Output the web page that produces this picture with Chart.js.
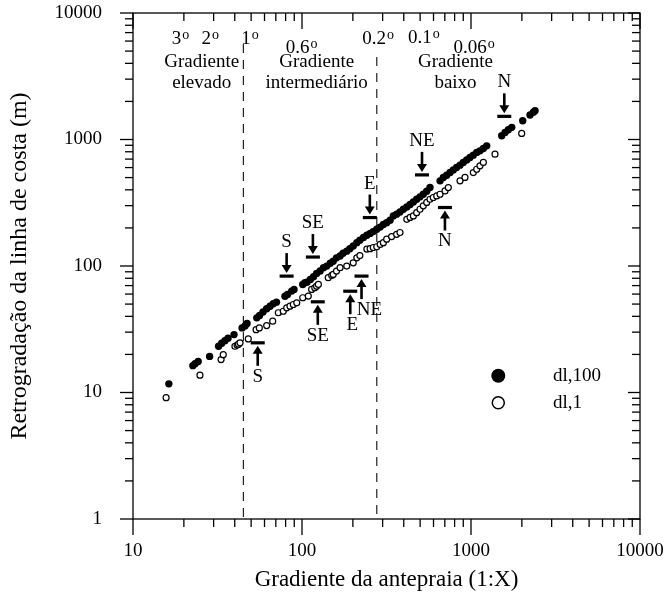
<!DOCTYPE html>
<html>
<head>
<meta charset="utf-8">
<script src="https://cdn.jsdelivr.net/npm/chart.js@4.4.1/dist/chart.umd.min.js"></script>
<style>
  body { margin: 0; background: #fff; }
</style>
</head>
<body>
<canvas id="chart" width="667" height="603"></canvas>
<script>
// dl,100 (filled circles)
const dl100X = [16.3, 22.6, 23.3, 24.3, 28.4, 32.1, 33.5, 35.0, 36.5, 39.6, 44.2, 46.0, 47.3, 54.0, 56.1, 58.8, 61.8, 64.7, 67.6, 70.6, 79.3, 82.1, 86.9, 89.7, 101, 104, 107, 112, 117, 122, 128, 134, 140, 147, 153, 160, 168, 175, 184, 192, 201, 211, 220, 231, 242, 253, 264, 277, 290, 303, 317, 332, 347, 363, 380, 398, 417, 436, 456, 477, 499, 522, 547, 572, 656, 686, 718, 752, 786, 822, 861, 900, 943, 986, 1032, 1081, 1130, 1183, 1239, 1520, 1590, 1663, 1742, 2023, 2235, 2339, 2393];
const dl100Y = [11.7, 16.3, 16.9, 17.6, 19.3, 23.2, 24.5, 25.7, 26.9, 28.7, 32.4, 33.6, 35.1, 38.9, 40.6, 43.3, 45.9, 48.1, 50.3, 51.8, 57.7, 59.6, 63.3, 65.3, 71.5, 73.7, 74.5, 78.3, 82.3, 87.4, 91.2, 97, 99.8, 105, 109, 116, 120, 126, 131, 137, 144, 153, 160, 168, 175, 181, 187, 195, 203, 213, 220, 230, 249, 257, 267, 281, 293, 306, 321, 337, 352, 369, 390, 417, 471, 501, 522, 548, 575, 601, 627, 659, 690, 721, 752, 791, 813, 849, 891, 1070, 1138, 1194, 1247, 1406, 1560, 1640, 1688];

// dl,1 (open circles)
const dl1X = [15.7, 24.9, 33.2, 34.2, 40.1, 41.3, 42.1, 43.0, 48.1, 53.5, 55.9, 61.8, 67.1, 72.4, 77.5, 81.2, 84.9, 88.8, 93.1, 101, 109, 114, 119, 122, 125, 143, 150, 153, 160, 168, 184, 201, 211, 220, 242, 253, 264, 277, 290, 303, 317, 339, 363, 380, 417, 436, 456, 477, 499, 522, 547, 572, 598, 627, 656, 702, 734, 861, 921, 1032, 1081, 1130, 1183, 1387, 1995];
const dl1Y = [9.1, 13.7, 18.2, 19.9, 23.2, 23.7, 24.1, 24.7, 26.5, 31.4, 32.4, 33.8, 36.6, 42.7, 43.9, 46.7, 48.1, 49.6, 51.2, 56.1, 57.8, 65.3, 67.3, 69.3, 71.5, 80.8, 84.3, 85.8, 91.2, 97, 99.8, 106, 116, 121, 136, 137, 140, 142, 148, 153, 163, 171, 178, 184, 234, 242, 249, 264, 281, 299, 318, 337, 348, 358, 369, 392, 417, 471, 501, 548, 582, 619, 659, 766, 1117];

const xTicks = [10, 100, 1000, 10000];
const yTicks = [1, 10, 100, 1000, 10000];
const dividers = [45, 277];

const degreeLabels = ["3", "2", "1", "0.6", "0.2", "0.1", "0.06"];
const degreeAt = [19.1, 28.6, 49.2, 99.5, 282, 527, 1042];

// arrows: label, bar x, bar y (data units)
const downArrows = [["S", 81.1, 83.2], ["SE", 116, 117.7], ["E", 252, 241.5], ["NE", 513, 525], ["N", 1574, 1524]];
const upArrows = [["S", 54.7, 24.7], ["SE", 124, 52.1], ["E", 193, 63.2], ["NE", 225, 83.2], ["N", 701, 290]];

const serif = "'Liberation Serif', 'Times New Roman', serif";

const pts = (xs, ys) => xs.map((v, i) => ({ x: v, y: ys[i] }));

const line = (ctx, x1, y1, x2, y2) => {
  ctx.beginPath();
  ctx.moveTo(x1, y1);
  ctx.lineTo(x2, y2);
  ctx.stroke();
};

const backPlugin = {
  id: "back",
  beforeDatasetsDraw(chart) {
    const { ctx, chartArea: a, scales: { x } } = chart;
    ctx.save();
    ctx.strokeStyle = "#222";
    ctx.lineWidth = 1.2;
    ctx.setLineDash([9, 7]);
    const tops = [a.top + 31, a.top + 44];
    dividers.forEach((v, i) => {
      const px = x.getPixelForValue(v);
      line(ctx, px, tops[i], px, a.bottom);
    });
    ctx.restore();
  },
};

const framePlugin = {
  id: "frame",
  afterDraw(chart) {
    const { ctx, chartArea: a, scales: { x, y } } = chart;
    ctx.save();
    ctx.strokeStyle = "#000";
    ctx.lineWidth = 1.3;
    ctx.strokeRect(a.left, a.top, a.right - a.left, a.bottom - a.top);

    // x ticks: bottom outward, top inward
    for (let d = 10; d <= 10000; d *= 10) {
      for (let m = 1; m < 10; m++) {
        const v = d * m;
        if (v > 10000) break;
        const px = x.getPixelForValue(v);
        const major = m === 1;
        line(ctx, px, a.bottom, px, a.bottom + (major ? 16 : 8));
        line(ctx, px, a.top, px, a.top + (major ? 16 : 8));
      }
    }
    // y ticks: left outward, right inward
    for (let d = 1; d <= 10000; d *= 10) {
      for (let m = 1; m < 10; m++) {
        const v = d * m;
        if (v > 10000) break;
        const py = y.getPixelForValue(v);
        const major = m === 1;
        line(ctx, a.left - (major ? 13 : 8), py, a.left, py);
        line(ctx, a.right - (major ? 12 : 8), py, a.right, py);
      }
    }

    ctx.fillStyle = "#000";

    // degree labels
    const rowY = [37.5, 37.5, 37.5, 46.7, 38, 36.7, 46.7];
    degreeLabels.forEach((t, i) => {
      const cx = x.getPixelForValue(degreeAt[i]);
      ctx.font = "19px " + serif;
      const w1 = ctx.measureText(t).width;
      ctx.font = "14px " + serif;
      const w2 = ctx.measureText("o").width;
      const left = cx - (w1 + w2 + 1) / 2;
      const base = rowY[i] + 6;
      ctx.textAlign = "left";
      ctx.textBaseline = "alphabetic";
      ctx.font = "19px " + serif;
      ctx.fillText(t, left, base);
      ctx.font = "14px " + serif;
      ctx.fillText("o", left + w1 + 1, base - 5);
    });

    // zone labels
    ctx.textAlign = "center";
    ctx.textBaseline = "middle";
    ctx.font = "19px " + serif;
    const zones = [["Gradiente", "elevado", 201.7], ["Gradiente", "intermediário", 316.7], ["Gradiente", "baixo", 455.5]];
    zones.forEach(([l1, l2, px]) => {
      ctx.fillText(l1, px, 62);
      ctx.fillText(l2, px, 83);
    });

    // arrows
    const drawArrow = (t, vx, vy, dir) => {
      const bx = x.getPixelForValue(vx);
      const by = y.getPixelForValue(vy);
      ctx.fillRect(bx - 7, by - 1.6, 14, 3.2);
      const s = dir; // -1: label above, pointing down; 1: label below, pointing up
      ctx.fillRect(bx - 1.3, Math.min(by + s * 9, by + s * 23), 2.6, 14);
      ctx.beginPath();
      ctx.moveTo(bx - 5, by + s * 11);
      ctx.lineTo(bx + 5, by + s * 11);
      ctx.lineTo(bx, by + s * 3);
      ctx.closePath();
      ctx.fill();
      ctx.font = "19px " + serif;
      let dx = 0;
      if (dir === 1 && t === "NE") dx = 8;
      if (dir === 1 && t === "E") dx = 2;
      ctx.fillText(t, bx + dx, by + s * 34);
    };
    downArrows.forEach(([t, vx, vy]) => drawArrow(t, vx, vy, -1));
    upArrows.forEach(([t, vx, vy]) => drawArrow(t, vx, vy, 1));

    // legend
    ctx.beginPath();
    ctx.arc(498.3, 375.7, 7, 0, Math.PI * 2);
    ctx.fill();
    ctx.beginPath();
    ctx.lineWidth = 1.5;
    ctx.arc(498.3, 402.7, 6, 0, Math.PI * 2);
    ctx.fillStyle = "#fff";
    ctx.fill();
    ctx.stroke();
    ctx.fillStyle = "#000";
    ctx.textAlign = "left";
    ctx.font = "19px " + serif;
    ctx.fillText("dl,100", 553, 375.7);
    ctx.fillText("dl,1", 553, 402.7);

    ctx.restore();
  },
};

const tickFont = { family: serif, size: 19 };

new Chart(document.getElementById("chart"), {
  type: "scatter",
  data: {
    datasets: [
      {
        label: "dl,100",
        data: pts(dl100X, dl100Y),
        pointRadius: 3.7,
        backgroundColor: "#000",
        borderColor: "#000",
        borderWidth: 0,
      },
      {
        label: "dl,1",
        data: pts(dl1X, dl1Y),
        pointRadius: 3,
        backgroundColor: "#fff",
        borderColor: "#000",
        borderWidth: 1.2,
      },
    ],
  },
  options: {
    responsive: false,
    animation: false,
    devicePixelRatio: 1,
    layout: { padding: { top: 13, right: 27, left: 0, bottom: 0 } },
    plugins: {
      legend: { display: false },
      tooltip: { enabled: false },
    },
    elements: { point: { hoverRadius: 3.7 } },
    scales: {
      x: {
        type: "logarithmic",
        position: "bottom",
        min: 10,
        max: 10000,
        grid: { display: false },
        border: { display: false },
        afterBuildTicks: (s) => {
          s.ticks = xTicks.map((v) => ({ value: v }));
        },
        afterFit: (s) => {
          s.height = 84;
          s.paddingLeft = 0;
          s.paddingRight = 0;
        },
        ticks: {
          autoSkip: false,
          maxRotation: 0,
          padding: 13,
          color: "#000",
          font: tickFont,
          callback: (v) => String(v),
        },
        title: {
          display: true,
          text: "Gradiente da antepraia (1:X)",
          color: "#000",
          font: { family: serif, size: 23 },
          padding: { top: 0, bottom: 9 },
        },
      },
      y: {
        type: "logarithmic",
        position: "left",
        min: 1,
        max: 10000,
        grid: { display: false },
        border: { display: false },
        afterBuildTicks: (s) => {
          s.ticks = yTicks.map((v) => ({ value: v }));
        },
        afterFit: (s) => {
          s.width = 133;
          s.paddingTop = 0;
          s.paddingBottom = 0;
        },
        ticks: {
          autoSkip: false,
          padding: 23,
          color: "#000",
          font: tickFont,
          callback: (v) => String(v),
        },
        title: {
          display: true,
          text: "Retrogradação da linha de costa (m)",
          color: "#000",
          font: { family: serif, size: 24 },
          padding: { top: 5, bottom: 0 },
        },
      },
    },
  },
  plugins: [backPlugin, framePlugin],
});
</script>
</body>
</html>
